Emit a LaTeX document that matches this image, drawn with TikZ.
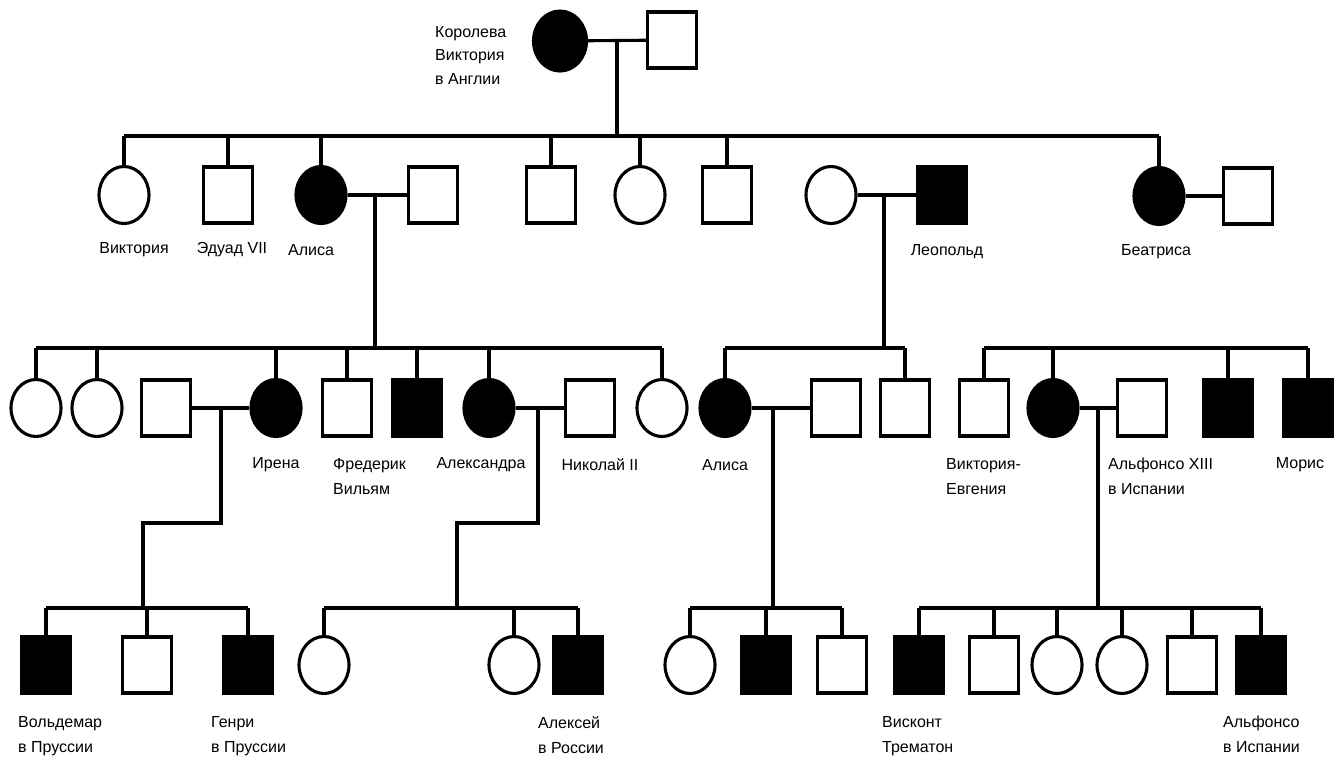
\documentclass[tikz,border=0pt]{standalone}
\usepackage{fontspec}
\setmainfont{Liberation Sans}
\usetikzlibrary{shapes.geometric}
\tikzset{
  man/.style={draw,rectangle,line width=3.1pt,minimum width=49pt,minimum height=56pt,inner sep=0pt},
  woman/.style={draw,ellipse,line width=3.1pt,minimum width=50pt,minimum height=57pt,inner sep=0pt},
  ill/.style={fill=black},
  lbl/.style={font=\fontsize{16}{25}\selectfont,inner sep=0pt},
  lbll/.style={lbl,align=left,anchor=north west},
}
\begin{document}
\begin{tikzpicture}[x=1pt,y=-1pt]
  \useasboundingbox (0,0) rectangle (1344,764);
  % generation I
  \draw
    (560,41) node[woman,ill,minimum width=53pt,minimum height=60pt] (vic){}
    (672,40) node[man] (alb){};
  % generation II
  \draw
    (124,195) node[woman] (vicII){}
    (228,195) node[man] (edw){}
    (321,195) node[woman,ill] (ali){}
    (433,195) node[man] (lud){}
    (551,195) node[man] (alf){}
    (640,195) node[woman] (hel){}
    (727,195) node[man] (art){}
    (831,195) node[woman] (hen){}
    (942,195) node[man,ill] (leo){}
    (1159,196) node[woman,ill] (bea){}
    (1248,196) node[man] (hnb){};
  % generation III
  \draw
    (36,408) node[woman] (hes1){}
    (97,408) node[woman] (hes2){}
    (166,408) node[man] (ireh){}
    (276,408) node[woman,ill] (ire){}
    (347,408) node[man] (fri){}
    (417,408) node[man,ill] (hes6){}
    (489,408) node[woman,ill] (alx){}
    (590,408) node[man] (nik){}
    (662,408) node[woman] (hes9){}
    (725,408) node[woman,ill] (aliA){}
    (836,408) node[man] (aliH){}
    (905,408) node[man] (cha){}
    (984,408) node[man] (ven){}
    (1053,408) node[woman,ill] (ena){}
    (1142,408) node[man] (alfXIII){}
    (1228,408) node[man,ill] (leoB){}
    (1308,408) node[man,ill] (mor){};
  % generation IV
  \draw
    (46,665) node[man,ill] (wal){}
    (147,665) node[man] (sig){}
    (248,665) node[man,ill] (hei){}
    (324,665) node[woman] (olg){}
    (514,665) node[woman] (ana){}
    (578,665) node[man,ill] (alxy){}
    (690,665) node[woman] (may){}
    (766,665) node[man,ill] (rup){}
    (842,665) node[man] (mau){}
    (919,665) node[man,ill] (tre){}
    (994,665) node[man] (jai){}
    (1057,665) node[woman] (bea2){}
    (1122,665) node[woman] (cri){}
    (1192,665) node[man] (jua){}
    (1261,665) node[man,ill] (gon){};
  % names
  \node[lbl,font=\fontsize{16}{23.5}\selectfont,align=left,anchor=north west] (vict) at (435,26) {Королева\\Виктория\\в Англии};
  \node[lbl] (vicIIt) at (134,250) {Виктория};
  \node[lbl] (edwt) at (232,250) {Эдуад VII};
  \node[lbl] (alit) at (311,250) {Алиса};
  \node[lbl] (leot) at (947,252) {Леопольд};
  \node[lbl] (beat) at (1156,252) {Беатриса};
  \node[lbl] (iret) at (276,465) {Ирена};
  \node[lbll] (frit) at (333,458) {Фредерик\\Вильям};
  \node[lbl] (alxt) at (481,465) {Александра};
  \node[lbl] (nikt) at (600,465) {Николай II};
  \node[lbl] (aliAt) at (725,465) {Алиса};
  \node[lbll] (vent) at (946,458) {Виктория-\\Евгения};
  \node[lbll] (alfXIIIt) at (1108,458) {Альфонсо XIII\\в Испании};
  \node[lbl] (mort) at (1300,465) {Морис};
  \node[lbll] (walt) at (18,716) {Вольдемар\\в Пруссии};
  \node[lbll] (heit) at (211,716) {Генри\\в Пруссии};
  \node[lbll] (alxyt) at (538,716) {Алексей\\в России};
  \node[lbll] (tret) at (882,716) {Висконт\\Трематон};
  \node[lbll] (gont) at (1223,716) {Альфонсо\\в Испании};
  % marriages and descent
  \coordinate (m1) at (617,41);   \coordinate (s1) at (617,136);
  \coordinate (m2a) at (375,196); \coordinate (s2a) at (375,348);
  \coordinate (m2b) at (884,196); \coordinate (s2b) at (884,348);
  \coordinate (s2c) at (1150,348);
  \coordinate (m3a) at (221,408); \coordinate (k3a) at (143,523); \coordinate (s3a) at (143,608);
  \coordinate (m3b) at (538,408); \coordinate (k3b) at (457,523); \coordinate (s3b) at (457,608);
  \coordinate (m3c) at (773,408); \coordinate (s3c) at (773,608);
  \coordinate (m3d) at (1098,408); \coordinate (s3d) at (1098,608);
  \begin{scope}[line width=3.1pt]
    \draw (vic) to (alb);
    \draw (m1) to (s1);
    \draw (vicII |- s1) to (bea |- s1);
    \draw (vicII) -- (vicII |- s1) (edw) -- (edw |- s1) (ali) -- (ali |- s1)
      (alf) -- (alf |- s1) (hel) -- (hel |- s1) (art) -- (art |- s1) (bea) -- (bea |- s1);
    \draw (ali) to (lud);
    \draw (hen) to (leo);
    \draw (bea) to (hnb);
    \draw (m2a) to (s2a);
    \draw (m2b) to (s2b);
    \draw (hes1 |- s2a) to (hes9 |- s2a);
    \draw (hes1) -- (hes1 |- s2a) (hes2) -- (hes2 |- s2a) (ire) -- (ire |- s2a)
      (fri) -- (fri |- s2a) (hes6) -- (hes6 |- s2a) (alx) -- (alx |- s2a) (hes9) -- (hes9 |- s2a);
    \draw (aliA |- s2b) to (cha |- s2b);
    \draw (aliA) -- (aliA |- s2b) (cha) -- (cha |- s2b);
    \draw (ven |- s2c) to (mor |- s2c);
    \draw (ven) -- (ven |- s2c) (ena) -- (ena |- s2c) (leoB) -- (leoB |- s2c) (mor) -- (mor |- s2c);
    \draw (ireh) to (ire);
    \draw (alx) to (nik);
    \draw (aliA) to (aliH);
    \draw (ena) to (alfXIII);
    \draw (m3a) |- (k3a) -- (s3a);
    \draw (m3b) |- (k3b) -- (s3b);
    \draw (m3c) to (s3c);
    \draw (m3d) to (s3d);
    \draw (wal |- s3a) to (hei |- s3a);
    \draw (wal) -- (wal |- s3a) (sig) -- (sig |- s3a) (hei) -- (hei |- s3a);
    \draw (olg |- s3b) to (alxy |- s3b);
    \draw (olg) -- (olg |- s3b) (ana) -- (ana |- s3b) (alxy) -- (alxy |- s3b);
    \draw (may |- s3c) to (mau |- s3c);
    \draw (may) -- (may |- s3c) (rup) -- (rup |- s3c) (mau) -- (mau |- s3c);
    \draw (tre |- s3d) to (gon |- s3d);
    \draw (tre) -- (tre |- s3d) (jai) -- (jai |- s3d) (bea2) -- (bea2 |- s3d)
      (cri) -- (cri |- s3d) (jua) -- (jua |- s3d) (gon) -- (gon |- s3d);
  \end{scope}
\end{tikzpicture}
\end{document}
